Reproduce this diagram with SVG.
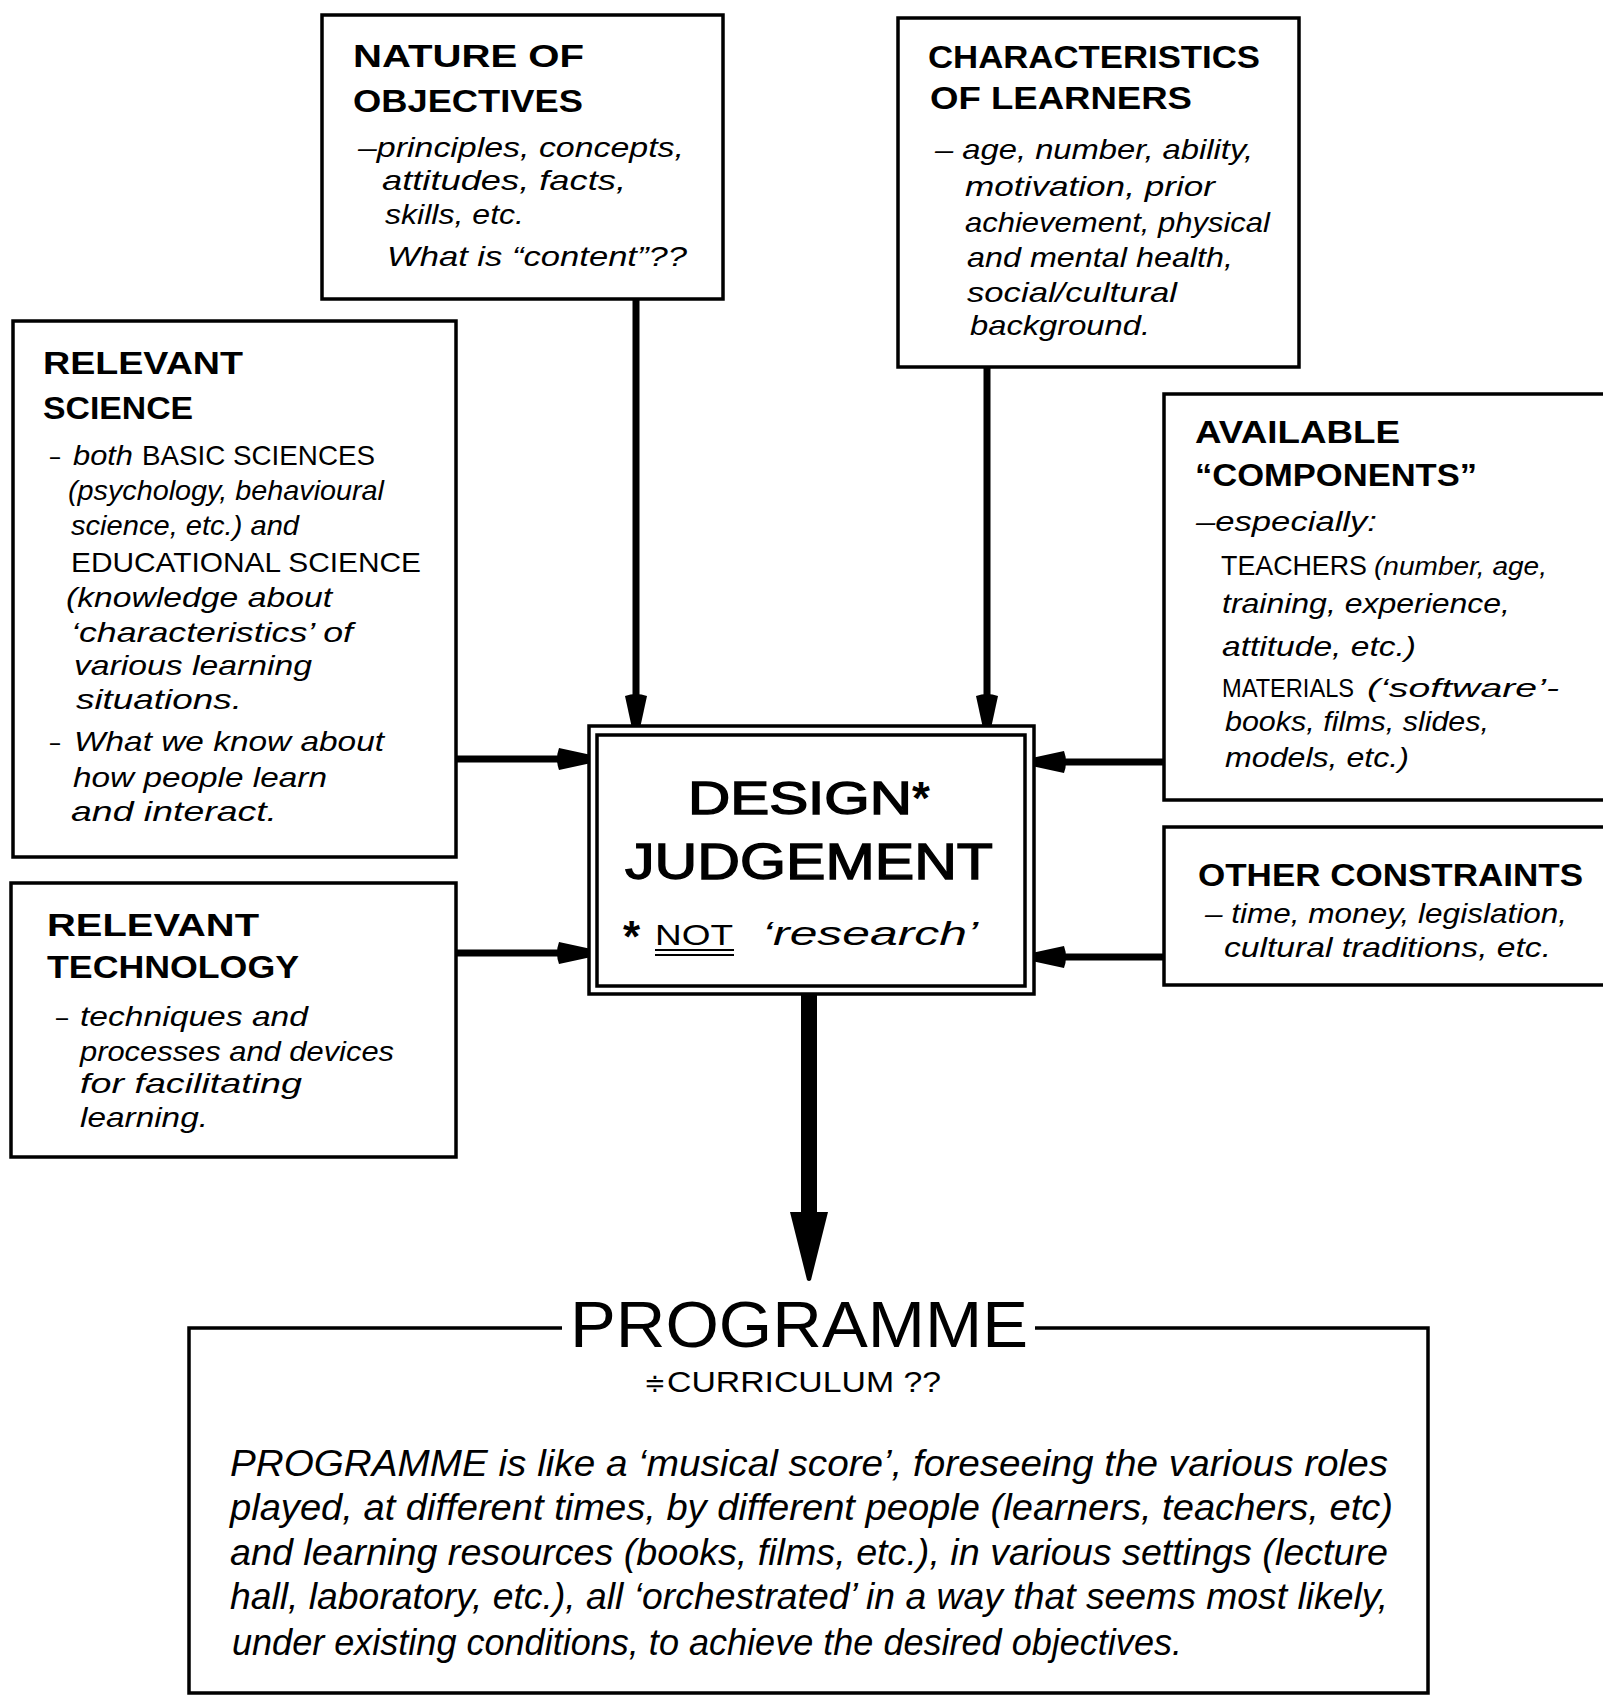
<svg xmlns="http://www.w3.org/2000/svg" width="1603" height="1696" viewBox="0 0 1603 1696">
<style>
.box{fill:#fff;stroke:#000;stroke-width:3.5}
.frame{fill:none;stroke:#000;stroke-width:3.5}
.conn{stroke:#000;stroke-width:7;fill:none}
.big{stroke:#000;stroke-width:16;fill:none}
text{fill:#000;font-family:"Liberation Sans","DejaVu Sans",Arial,sans-serif}
.h{font-weight:bold;font-size:32px}
.b{font-style:italic;font-size:28px}
.u{font-size:28px}
.p{font-style:italic;font-size:36px}
.dj{font-size:46px;stroke:#000;stroke-width:1.4}
</style>
<defs>
<marker id="ah" markerUnits="userSpaceOnUse" markerWidth="40" markerHeight="30" viewBox="-34 -15 40 30" refX="0" refY="0" orient="auto">
<path d="M-30,-11 Q-34,0 -30,11 L0,4.5 L0,-4.5 Z" fill="#000"/>
</marker>
<marker id="bigah" markerUnits="userSpaceOnUse" markerWidth="80" markerHeight="44" viewBox="-10 -22 80 44" refX="0" refY="0" orient="auto">
<path d="M-4,-19 L64,-2 Q66,0 64,2 L-4,19 Z" fill="#000"/>
</marker>
</defs>
<rect width="1603" height="1696" fill="#fff"/>

<g id="connectors">
<line class="conn" x1="636" y1="299" x2="636" y2="726" marker-end="url(#ah)"/>
<line class="conn" x1="987" y1="367" x2="987" y2="726" marker-end="url(#ah)"/>
<line class="conn" x1="456" y1="759" x2="589" y2="759" marker-end="url(#ah)"/>
<line class="conn" x1="456" y1="953" x2="589" y2="953" marker-end="url(#ah)"/>
<line class="conn" x1="1164" y1="762" x2="1034" y2="762" marker-end="url(#ah)"/>
<line class="conn" x1="1164" y1="957" x2="1034" y2="957" marker-end="url(#ah)"/>
<line class="big" x1="809" y1="994" x2="809" y2="1216" marker-end="url(#bigah)"/>
</g>

<g id="nature">
<rect class="box" x="322" y="15" width="401" height="284"/>
<text class="h" x="353" y="67" textLength="231" lengthAdjust="spacingAndGlyphs">NATURE OF</text>
<text class="h" x="353" y="112" textLength="230" lengthAdjust="spacingAndGlyphs">OBJECTIVES</text>
<text class="b" x="358" y="157" textLength="326" lengthAdjust="spacingAndGlyphs">–principles, concepts,</text>
<text class="b" x="382" y="190" textLength="244" lengthAdjust="spacingAndGlyphs">attitudes, facts,</text>
<text class="b" x="385" y="224" textLength="139" lengthAdjust="spacingAndGlyphs">skills, etc.</text>
<text class="b" x="387" y="266" textLength="300" lengthAdjust="spacingAndGlyphs">What is “content”??</text>
</g>

<g id="characteristics">
<rect class="box" x="898" y="18" width="401" height="349"/>
<text class="h" x="928" y="68" textLength="332" lengthAdjust="spacingAndGlyphs">CHARACTERISTICS</text>
<text class="h" x="930" y="109" textLength="262" lengthAdjust="spacingAndGlyphs">OF LEARNERS</text>
<text class="b" x="935" y="159" textLength="318" lengthAdjust="spacingAndGlyphs">– age, number, ability,</text>
<text class="b" x="965" y="196" textLength="250" lengthAdjust="spacingAndGlyphs">motivation, prior</text>
<text class="b" x="965" y="232" textLength="305" lengthAdjust="spacingAndGlyphs">achievement, physical</text>
<text class="b" x="967" y="267" textLength="266" lengthAdjust="spacingAndGlyphs">and mental health,</text>
<text class="b" x="967" y="302" textLength="210" lengthAdjust="spacingAndGlyphs">social/cultural</text>
<text class="b" x="970" y="335" textLength="180" lengthAdjust="spacingAndGlyphs">background.</text>
</g>

<g id="relevant-science">
<rect class="box" x="13" y="321" width="443" height="536"/>
<text class="h" x="43" y="374" textLength="200" lengthAdjust="spacingAndGlyphs">RELEVANT</text>
<text class="h" x="43" y="419" textLength="150" lengthAdjust="spacingAndGlyphs">SCIENCE</text>
<text class="u" x="50" y="465" textLength="10" lengthAdjust="spacingAndGlyphs">–</text>
<text class="b" x="73" y="465" textLength="60" lengthAdjust="spacingAndGlyphs">both</text>
<text class="u" x="142" y="465" textLength="233" lengthAdjust="spacingAndGlyphs">BASIC SCIENCES</text>
<text class="b" x="68" y="500" textLength="316" lengthAdjust="spacingAndGlyphs">(psychology, behavioural</text>
<text class="b" x="71" y="535" textLength="228" lengthAdjust="spacingAndGlyphs">science, etc.) and</text>
<text class="u" x="71" y="572" textLength="350" lengthAdjust="spacingAndGlyphs">EDUCATIONAL SCIENCE</text>
<text class="b" x="66" y="607" textLength="266" lengthAdjust="spacingAndGlyphs">(knowledge about</text>
<text class="b" x="71" y="642" textLength="282" lengthAdjust="spacingAndGlyphs">‘characteristics’ of</text>
<text class="b" x="74" y="675" textLength="238" lengthAdjust="spacingAndGlyphs">various learning</text>
<text class="b" x="76" y="709" textLength="166" lengthAdjust="spacingAndGlyphs">situations.</text>
<text class="u" x="50" y="751" textLength="10" lengthAdjust="spacingAndGlyphs">–</text>
<text class="b" x="74" y="751" textLength="310" lengthAdjust="spacingAndGlyphs">What we know about</text>
<text class="b" x="73" y="787" textLength="254" lengthAdjust="spacingAndGlyphs">how people learn</text>
<text class="b" x="71" y="821" textLength="206" lengthAdjust="spacingAndGlyphs">and interact.</text>
</g>

<g id="relevant-technology">
<rect class="box" x="11" y="883" width="445" height="274"/>
<text class="h" x="47" y="936" textLength="212" lengthAdjust="spacingAndGlyphs">RELEVANT</text>
<text class="h" x="47" y="978" textLength="252" lengthAdjust="spacingAndGlyphs">TECHNOLOGY</text>
<text class="u" x="56" y="1026" textLength="12" lengthAdjust="spacingAndGlyphs">–</text>
<text class="b" x="80" y="1026" textLength="228" lengthAdjust="spacingAndGlyphs">techniques and</text>
<text class="b" x="80" y="1061" textLength="314" lengthAdjust="spacingAndGlyphs">processes and devices</text>
<text class="b" x="80" y="1093" textLength="222" lengthAdjust="spacingAndGlyphs">for facilitating</text>
<text class="b" x="80" y="1127" textLength="128" lengthAdjust="spacingAndGlyphs">learning.</text>
</g>

<g id="available-components">
<rect class="box" x="1164" y="394" width="460" height="406"/>
<text class="h" x="1195" y="443" textLength="205" lengthAdjust="spacingAndGlyphs">AVAILABLE</text>
<text class="h" x="1195" y="486" textLength="282" lengthAdjust="spacingAndGlyphs">“COMPONENTS”</text>
<text class="b" x="1196" y="531" textLength="181" lengthAdjust="spacingAndGlyphs">–especially:</text>
<text class="u" x="1221" y="575" textLength="146" lengthAdjust="spacingAndGlyphs">TEACHERS</text>
<text class="b" x="1374" y="575" textLength="173" lengthAdjust="spacingAndGlyphs" style="font-size:25px">(number, age,</text>
<text class="b" x="1222" y="613" textLength="288" lengthAdjust="spacingAndGlyphs">training, experience,</text>
<text class="b" x="1222" y="656" textLength="194" lengthAdjust="spacingAndGlyphs">attitude, etc.)</text>
<text x="1222" y="697" textLength="132" lengthAdjust="spacingAndGlyphs" style="font-size:25px">MATERIALS</text>
<text class="b" x="1367" y="697" textLength="192" lengthAdjust="spacingAndGlyphs" style="font-size:26px">(‘software’-</text>
<text class="b" x="1225" y="731" textLength="264" lengthAdjust="spacingAndGlyphs">books, films, slides,</text>
<text class="b" x="1225" y="767" textLength="184" lengthAdjust="spacingAndGlyphs">models, etc.)</text>
</g>

<g id="other-constraints">
<rect class="box" x="1164" y="827" width="460" height="158"/>
<text class="h" x="1198" y="886" textLength="385" lengthAdjust="spacingAndGlyphs">OTHER CONSTRAINTS</text>
<text class="b" x="1205" y="923" textLength="362" lengthAdjust="spacingAndGlyphs">– time, money, legislation,</text>
<text class="b" x="1224" y="957" textLength="327" lengthAdjust="spacingAndGlyphs">cultural traditions, etc.</text>
</g>

<g id="design-judgement">
<rect class="box" x="589" y="726" width="445" height="268"/>
<rect class="frame" x="597" y="735" width="428" height="251"/>
<text class="dj" x="688" y="814" textLength="224" lengthAdjust="spacingAndGlyphs">DESIGN</text>
<text x="912" y="814" style="font-size:46px;font-weight:bold">*</text>
<text class="dj" x="625" y="879" textLength="368" lengthAdjust="spacingAndGlyphs" style="font-size:50px">JUDGEMENT</text>
<text x="623" y="952" style="font-size:44px;font-weight:bold">*</text>
<text x="655" y="945" textLength="78" lengthAdjust="spacingAndGlyphs" style="font-size:30px">NOT</text>
<line x1="655" y1="950" x2="734" y2="950" stroke="#000" stroke-width="2"/>
<line x1="655" y1="955" x2="734" y2="955" stroke="#000" stroke-width="2"/>
<text x="762" y="945" textLength="216" lengthAdjust="spacingAndGlyphs" style="font-size:34px;font-style:italic">‘research’</text>
</g>

<g id="programme">
<path class="frame" d="M562,1328 H189 V1693 H1428 V1328 H1035"/>
<text x="570" y="1347" textLength="458" lengthAdjust="spacingAndGlyphs" style="font-size:64px">PROGRAMME</text>
<text x="644" y="1392" style="font-size:26px;font-family:'DejaVu Sans',sans-serif">≑</text>
<text x="667" y="1392" textLength="274" lengthAdjust="spacingAndGlyphs" style="font-size:29px">CURRICULUM ??</text>
<text class="p" x="230" y="1476" textLength="1158" lengthAdjust="spacingAndGlyphs">PROGRAMME  is like a ‘musical score’, foreseeing the various roles</text>
<text class="p" x="230" y="1520" textLength="1163" lengthAdjust="spacingAndGlyphs">played, at different times, by different people (learners, teachers, etc)</text>
<text class="p" x="230" y="1565" textLength="1158" lengthAdjust="spacingAndGlyphs">and learning resources (books, films, etc.), in various settings  (lecture</text>
<text class="p" x="230" y="1609" textLength="1158" lengthAdjust="spacingAndGlyphs">hall, laboratory, etc.), all ‘orchestrated’ in a way that seems most likely,</text>
<text class="p" x="232" y="1655" textLength="950" lengthAdjust="spacingAndGlyphs">under existing conditions, to achieve the desired objectives.</text>
</g>
</svg>
